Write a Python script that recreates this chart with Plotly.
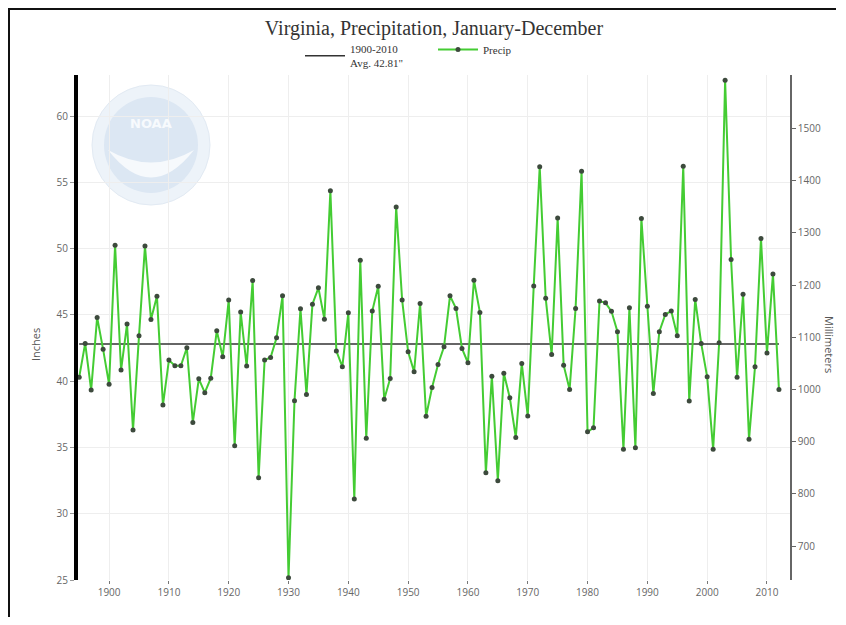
import plotly.graph_objects as go

years = list(range(1895, 2013))
precip_in = [
    40.3, 42.85, 39.33, 44.81, 42.40, 39.76, 50.26, 40.84, 44.31, 36.31,
    43.42, 50.19, 44.66, 46.40, 38.20, 41.59, 41.16, 41.16, 42.52, 36.89,
    40.18, 39.13, 40.23, 43.80, 41.84, 46.12, 35.13, 45.21, 41.14, 47.60,
    32.72, 41.59, 41.79, 43.27, 46.44, 25.17, 38.53, 45.46, 39.00, 45.81,
    47.04, 44.68, 54.36, 42.27, 41.09, 45.16, 31.11, 49.13, 35.69, 45.29,
    47.17, 38.63, 40.21, 53.15, 46.12, 42.22, 40.71, 45.86, 37.35, 39.52,
    41.26, 42.59, 46.44, 45.49, 42.47, 41.39, 47.62, 45.19, 33.09, 40.38,
    32.49, 40.59, 38.75, 35.76, 41.34, 37.37, 47.19, 56.17, 46.26, 42.01,
    52.31, 41.21, 39.38, 45.49, 55.84, 36.18, 36.49, 46.04, 45.91, 45.27,
    43.73, 34.86, 45.54, 34.98, 52.28, 45.66, 39.08, 43.73, 45.04, 45.29,
    43.43, 56.22, 38.50, 46.17, 42.85, 40.33, 34.86, 42.90, 62.70, 49.18,
    40.30, 46.55, 35.61, 41.09, 50.77, 42.12, 48.08, 39.38,
]
avg_years = [1895, 2012]
avg_value = 42.81
avg_name = '1900-2010<br>Avg. 42.81"'
inch_ticks = [25, 30, 35, 40, 45, 50, 55, 60]
mm_ticks = [700, 800, 900, 1000, 1100, 1200, 1300, 1400, 1500]
year_ticks = list(range(1900, 2011, 10))
precip_mm = [v * 25.4 for v in precip_in]

fig = go.Figure()
fig.add_trace(go.Scatter(
    x=avg_years, y=[avg_value, avg_value], mode="lines", name=avg_name,
    line=dict(color="#333333", width=1.5), hoverinfo="skip",
))
fig.add_trace(go.Scatter(
    x=years, y=precip_in, mode="lines+markers", name="Precip",
    line=dict(color="#44cc33", width=2),
    marker=dict(color="#3d4a3d", size=5),
))
fig.add_trace(go.Scatter(
    x=years, y=precip_mm, yaxis="y2", mode="lines", opacity=0,
    showlegend=False, hoverinfo="skip", line=dict(color="rgba(0,0,0,0)"),
))

OFF = 8  # page body margin
FW, FH = 846 - 2 * OFF, 625 - 2 * OFF
# plot area in page coordinates
L, R, T, B = 78, 790, 75, 580
W, H = R - L, B - T
def px(x):
    return (x - L) / W
def py(y):
    return (B - y) / H

shapes = [
    dict(type="circle", xref="paper", yref="paper", layer="below",
         x0=px(92), x1=px(210), y0=py(205), y1=py(85),
         fillcolor="#edf3f9", line=dict(color="#e2eaf3", width=1)),
    dict(type="circle", xref="paper", yref="paper", layer="below",
         x0=px(104), x1=px(198), y0=py(193), y1=py(97),
         fillcolor="#dce7f3", line=dict(width=0)),
    dict(type="path", xref="paper", yref="paper", layer="below",
         path=f"M {px(108)},{py(150)} Q {px(151)},{py(205)} {px(194)},{py(150)} Q {px(151)},{py(175)} {px(108)},{py(150)} Z",
         fillcolor="#f6f9fc", line=dict(width=0)),
    dict(type="line", xref="paper", yref="paper", x0=px(8), x1=px(836), y0=py(9), y1=py(9),
         line=dict(color="#111111", width=2)),
    dict(type="line", xref="paper", yref="paper", x0=px(9), x1=px(9), y0=py(9), y1=py(617),
         line=dict(color="#111111", width=2)),
]

annotations = [
    dict(text="Inches", xref="paper", yref="paper", x=px(35), y=py(345),
         xanchor="center", yanchor="middle",
         showarrow=False, textangle=-90, font=dict(size=11, color="#555555")),
    dict(text="Millimeters", xref="paper", yref="paper", x=px(830), y=py(345),
         xanchor="center", yanchor="middle",
         showarrow=False, textangle=90, font=dict(size=11, color="#555555")),
    dict(text="<b>NOAA</b>", xref="paper", yref="paper", x=px(151), y=py(124),
         xanchor="center", yanchor="middle",
         showarrow=False, font=dict(size=13, color="#f7fafd", family="DejaVu Sans")),
]

fig.update_layout(
    width=FW, height=FH,
    margin=dict(l=L - OFF, r=FW - (R - OFF), t=T - OFF, b=FH - (B - OFF), autoexpand=False),
    paper_bgcolor="white", plot_bgcolor="white",
    font=dict(family="Open Sans", color="#555555"),
    title=dict(text="Virginia, Precipitation, January-December",
               x=px(434), xref="paper", y=1 - (28 - OFF) / FH, yanchor="middle", xanchor="center",
               font=dict(family="Liberation Serif", size=20, color="#333333")),
    legend=dict(orientation="h", x=px(300), xanchor="left", y=py(35), yanchor="top",
                font=dict(family="Liberation Serif", size=11, color="#333333"),
                bgcolor="rgba(0,0,0,0)", itemwidth=40,
                entrywidth=78, entrywidthmode="pixels"),
    xaxis=dict(range=[1894.8, 2013.85], tickvals=year_ticks, showline=False,
               ticks="outside", ticklen=3, tickcolor="#777777",
               showgrid=True, gridcolor="#eeeeee", zeroline=False,
               tickfont=dict(size=10, color="#666666")),
    yaxis=dict(range=[25, 63.1], tickvals=inch_ticks, showline=True,
               linecolor="black", linewidth=4, ticks="outside", ticklen=4,
               tickcolor="#999999", showgrid=True, gridcolor="#eeeeee",
               zeroline=False, tickfont=dict(size=10, color="#666666")),
    yaxis2=dict(range=[25 * 25.4, 63.1 * 25.4], tickvals=mm_ticks, overlaying="y",
                side="right", showline=True, linecolor="#666666", linewidth=1.5,
                ticks="outside", ticklen=4, tickcolor="#666666", showgrid=False,
                zeroline=False, tickfont=dict(size=10, color="#666666")),
    shapes=shapes, annotations=annotations,
    hovermode="closest",
)

fig.write_html("out.html")
